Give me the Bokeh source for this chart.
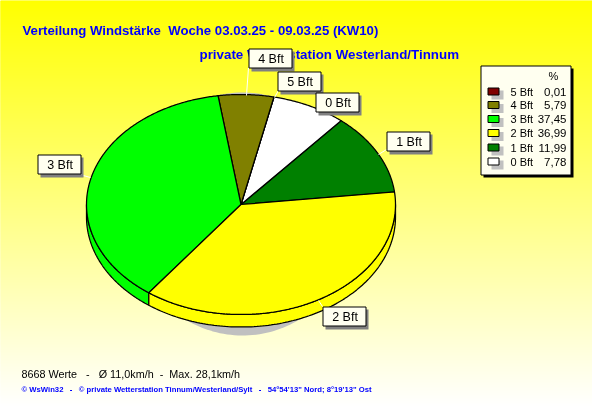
import numpy as np
from bokeh.plotting import figure
from bokeh.models import Range1d
from bokeh.core.properties import value
from bokeh.embed import file_html
from bokeh.resources import INLINE

# ---- data ----
categories = ["5 Bft", "4 Bft", "3 Bft", "2 Bft", "1 Bft", "0 Bft"]
percent = [0.01, 5.79, 37.45, 36.99, 11.99, 7.78]
percent_labels = ["0,01", "5,79", "37,45", "36,99", "11,99", "7,78"]
colors = ["#800000", "#808000", "#00FF00", "#FFFF00", "#008000", "#FFFFFF"]
pie_order = ["1 Bft", "0 Bft", "5 Bft", "4 Bft", "3 Bft", "2 Bft"]

NB = "\u00a0"
title_1 = f"Verteilung Windstärke{NB}{NB}Woche 03.03.25 - 09.03.25 (KW10)"
title_2 = "private Wetterstation Westerland/Tinnum"
footer_1 = f"8668 Werte{NB}{NB} -{NB}{NB} Ø 11,0km/h{NB} -{NB} Max. 28,1km/h"
footer_2 = f"© WsWin32{NB}{NB} -{NB}{NB} © private Wetterstation Tinnum/Westerland/Sylt{NB}{NB} -{NB}{NB} 54°54'13\" Nord; 8°19'13\" Ost"

# ---- layout ----
W, H = 592, 407
CX, CY, RX, RY, DEPTH = 240.5, 204.0, 154.5, 110.0, 12.5
START = 6.5
SH_CX, SH_CY, SH_RX, SH_RY = 242.0, 213.5, 115.0, 121.5
LABEL_W, LABEL_H = 43, 19
label_boxes = {
    "4 Bft": (248, 48), "5 Bft": (277, 71), "0 Bft": (315, 92),
    "1 Bft": (386, 131), "3 Bft": (37, 154), "2 Bft": (322, 306),
}
leaders = {
    "4 Bft": ((248, 246), (67, 95)), "5 Bft": ((278, 274), (90, 97)),
    "1 Bft": ((386, 378), (149, 154)), "3 Bft": ((79, 90), (174, 177)),
    "2 Bft": ((322, 318), (306, 300)),
}
FONT = value("Liberation Sans")
LW = 1.25

p = figure(width=W, height=H, output_backend="svg", toolbar_location=None,
           x_range=Range1d(0, W), y_range=Range1d(H, 0), min_border=0,
           styles={"position": "fixed", "left": "0px", "top": "0px"})
p.axis.visible = False
p.grid.visible = False
p.outline_line_color = None

# background gradient: yellow to white, top to bottom
ys = np.arange(H)
blue = np.round(ys / (H - 1) * 255).astype(int)
grad = [f"#FFFF{b:02X}" for b in blue]
p.quad(left=np.zeros(H), right=np.full(H, W), top=ys, bottom=ys + 1, fill_color=grad, line_color=grad, line_width=1)


def pt(a, dy=0.0):
    r = np.radians(a)
    return CX + RX * np.cos(r), CY - RY * np.sin(r) + dy


# shadow
t = np.linspace(0, 2 * np.pi, 200)
p.patch(SH_CX + SH_RX * np.cos(t), SH_CY + SH_RY * np.sin(t), fill_color="#C0C0C0", line_color=None)

# slices
lookup = dict(zip(categories, zip(percent, colors)))
spans, a = [], START
for name in pie_order:
    v, c = lookup[name]
    spans.append((name, a, a + v * 3.6, c))
    a += v * 3.6

# side walls
for name, a0, a1, c in spans:
    lo, hi = max(a0, 180), min(a1, 360)
    if hi > lo:
        arc = np.linspace(lo, hi, 120)
        x0, y0 = pt(arc)
        x1, y1 = pt(arc, DEPTH)
        p.patch(np.r_[x0, x1[::-1]], np.r_[y0, y1[::-1]], fill_color=c, line_color="black", line_width=LW)

# top surfaces
for name, a0, a1, c in spans:
    arc = np.linspace(a0, a1, max(3, int((a1 - a0) * 2)))
    x, y = pt(arc)
    p.patch(np.r_[CX, x], np.r_[CY, y], fill_color=c, line_color="black", line_width=LW)

# titles
tf = dict(text_font=FONT, text_font_style="bold", text_baseline="alphabetic")
p.text([22], [30], text=[title_1], text_color="#0000FF", text_font_size="13.2px", **tf)
p.text([199], [54], text=[title_2], text_color="#0000FF", text_font_size="13.35px", **tf)

# leaders
for name, (lx, ly) in leaders.items():
    p.line(list(lx), list(ly), line_color="white", line_width=1)

# labels
for name, (bx, by) in label_boxes.items():
    p.quad(left=[bx + 3], right=[bx + LABEL_W + 3], top=[by + 3], bottom=[by + LABEL_H + 4],
           fill_color="#808080", line_color=None)
    p.quad(left=[bx + .5], right=[bx + LABEL_W + .5], top=[by + .5], bottom=[by + LABEL_H + .5],
           fill_color="#FFFFF0", line_color="black", line_width=1)
    p.text([bx + LABEL_W / 2 + 1], [by + LABEL_H / 2 + 0.5], text=[name], text_align="center",
           text_baseline="middle", text_font=FONT, text_font_size="12.5px", text_color="black")

# legend
LX0, LX1, LY0, LY1 = 480, 570, 65, 174
p.quad(left=[LX0 + 3], right=[LX1 + 3], top=[LY0 + 3], bottom=[LY1 + 3], fill_color="black", line_color=None)
p.quad(left=[LX0 + .5], right=[LX1 + .5], top=[LY0 + .5], bottom=[LY1 + .5], fill_color="#FFFFF0", line_color="black", line_width=1)
p.text([553], [75], text=["%"], text_align="center", text_baseline="middle", text_font=FONT,
       text_font_size="11px", text_color="black")
row_y = [91, 104.5, 118.5, 132.5, 147, 161]
sx0, sx1 = 487, 498
p.quad(left=[sx0 + 4] * 6, right=[sx1 + 5] * 6, top=[y - 1 for y in row_y], bottom=[y + 8 for y in row_y],
       fill_color="#C0C0C0", line_color=None)
p.quad(left=[sx0 + .5] * 6, right=[sx1 + .5] * 6, top=[y - 3.5 for y in row_y], bottom=[y + 3.5 for y in row_y],
       fill_color=colors, line_color="black", line_width=1)
p.text([510] * 6, row_y, text=categories, text_baseline="middle", text_font=FONT,
       text_font_size="11px", text_color="black")
p.text([566] * 6, row_y, text=percent_labels, text_align="right", text_baseline="middle", text_font=FONT,
       text_font_size="11.5px", text_color="black")

# footer
p.text([21], [373], text=[footer_1], text_baseline="alphabetic", text_font=FONT, text_font_size="10.8px",
       text_color="black")
p.text([21], [388.5], text=[footer_2], text_color="#0000FF", text_font_size="7.7px", **tf)

open("out.html", "w").write(file_html(p, INLINE))
